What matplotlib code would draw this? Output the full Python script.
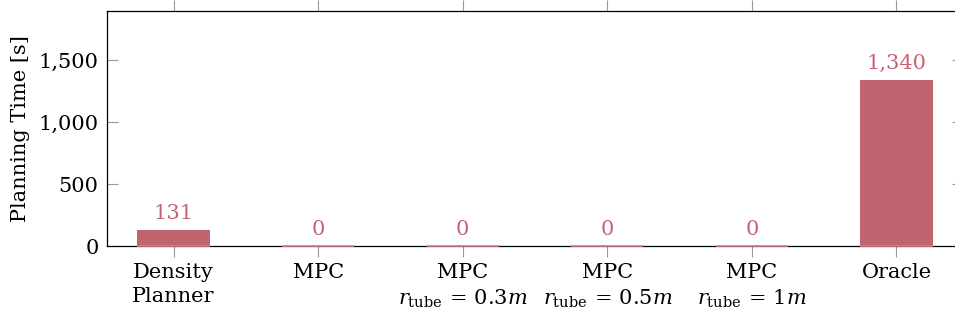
import matplotlib
matplotlib.use("Agg")
import matplotlib.pyplot as plt
import matplotlib.ticker as mticker

# data
methods = [
    "Density\nPlanner",
    "MPC",
    "MPC\n$r_{\\mathrm{tube}} \\,=\\, 0.3m$",
    "MPC\n$r_{\\mathrm{tube}} \\,=\\, 0.5m$",
    "MPC\n$r_{\\mathrm{tube}} \\,=\\, 1m$",
    "Oracle",
]
planning_time = [131, 0, 0, 0, 0, 1340]
yticks = [0, 500, 1000, 1500]

bar_color = "#c0646f"
label_color = "#c8606f"
tick_grey = "#999999"

plt.rcParams["font.family"] = ["DejaVu Serif"]
plt.rcParams["mathtext.fontset"] = "dejavuserif"
plt.rcParams["font.size"] = 15

fig = plt.figure(figsize=(9.55, 3.23), dpi=100)
ax = fig.add_axes([107 / 955, 1 - 246 / 323, 856 / 955, 235 / 323])

x = list(range(len(methods)))
ax.bar(x, planning_time, width=0.5, color=bar_color, zorder=2)
# zero-height bars show as a thin pink line on the baseline
ax.bar(x, [0] * len(x), width=0.5, bottom=0, color=bar_color,
       edgecolor="#d9808c", linewidth=1.2, zorder=5, clip_on=False)

for xi, v in zip(x, planning_time):
    ax.annotate(f"{v:,}", (xi, v), xytext=(0, 5), textcoords="offset points",
                ha="center", va="bottom", color=label_color, fontsize=15)

ax.set_xlim(-0.46, 5.46)
ax.set_ylim(0, 1900)
ax.set_xticks(x)
ax.set_xticklabels(methods, linespacing=1.35)
ax.set_yticks(yticks)
ax.yaxis.set_major_formatter(mticker.FuncFormatter(lambda v, p: f"{int(v):,}"))
ax.set_ylabel("Planning Time [s]", fontsize=15, labelpad=6)

ax.tick_params(axis="x", direction="out", length=8, color=tick_grey, width=0.8,
               top=True, pad=4)
ax.tick_params(axis="y", direction="in", length=8, color=tick_grey, width=0.8,
               right=True, pad=6)
for s in ax.spines.values():
    s.set_linewidth(0.9)
    s.set_zorder(4)

fig.savefig("out.png", dpi=100)
